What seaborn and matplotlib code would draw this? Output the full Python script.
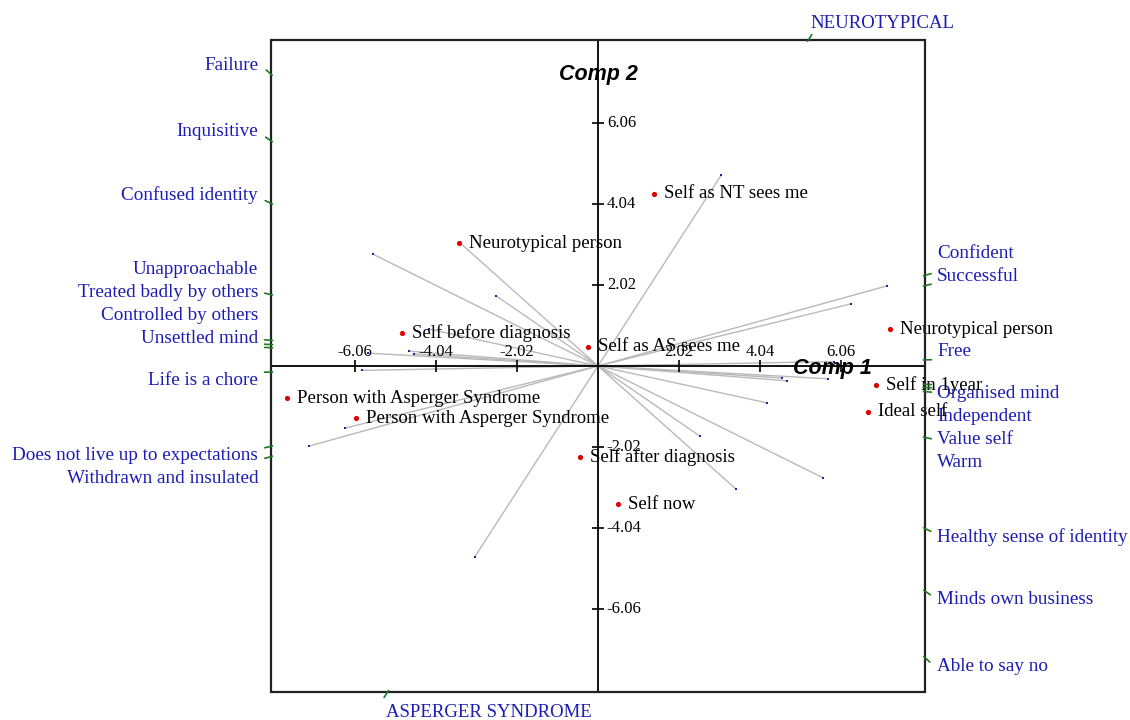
import numpy as np
import pandas as pd
import seaborn as sns
import matplotlib.pyplot as plt
from matplotlib.patches import Rectangle

# ---- data (component scores) ----
element_names = [
    'Self as NT sees me', 'Neurotypical person', 'Self before diagnosis',
    'Self as AS sees me', 'Neurotypical person', 'Self in 1year', 'Ideal self',
    'Person with Asperger Syndrome', 'Person with Asperger Syndrome',
    'Self after diagnosis', 'Self now']
element_x = [1.40, -3.47, -4.89, -0.24, 7.28, 6.93, 6.72, -7.75, -6.03, -0.45, 0.49]
element_y = [4.29, 3.06, 0.82, 0.48, 0.91, -0.47, -1.14, -0.81, -1.30, -2.28, -3.45]

# construct loadings (one pole; the other pole is the mirror through 0)
construct_x = [3.07, -5.61, -2.54, 7.21, 6.31, 5.74, 4.71, 5.89, 3.45, 4.21, 4.59]
construct_y = [4.76, 2.79, 1.75, 2.00, 1.55, -0.32, -0.37, 0.11, -3.08, -0.92, -0.30]
pole_pos = ['NEUROTYPICAL', 'Confused identity', 'Inquisitive', 'Confident',
            'Successful', 'Organised mind', 'Value self', 'Free',
            'Able to say no', 'Warm', 'Independent']
pole_neg = ['ASPERGER SYNDROME', 'Healthy sense of identity', 'Minds own business',
            'Withdrawn and insulated', 'Does not live up to expectations',
            'Unsettled mind', 'Treated badly by others', 'Life is a chore',
            'Failure', 'Unapproachable', 'Controlled by others']

axis_ticks = [-6.06, -4.04, -2.02, 2.02, 4.04, 6.06]

XL, YL = 8.15, 8.13

sns.set_theme(style='white')
serif = ['Liberation Serif', 'DejaVu Serif']
blue = '#1c1cb4'
green = '#1f7a1f'

fig = plt.figure(figsize=(11.3, 7.2), dpi=100)
ax = fig.add_axes([0.2398, 0.0389, 0.5788, 0.9056])
ax.set_xlim(-XL, XL)
ax.set_ylim(-YL, YL)
ax.set_xticks([])
ax.set_yticks([])
for s in ax.spines.values():
    s.set_visible(False)
ax.add_patch(Rectangle((0, 0), 1, 1, transform=ax.transAxes, fill=False,
                       ec='#222222', lw=1.6, clip_on=False, zorder=5))

# construct lines through origin
cx = np.array(construct_x)
cy = np.array(construct_y)
for x, y in zip(cx, cy):
    ax.plot([-x, x], [-y, y], color='#b9b9b9', lw=1, zorder=1)

ends = pd.DataFrame({'x': np.r_[cx, -cx], 'y': np.r_[cy, -cy]})
sns.scatterplot(data=ends, x='x', y='y', ax=ax, color='#2020a0', s=4,
                marker='s', linewidth=0, legend=False, zorder=3)

# axes through origin
ax.axhline(0, color='black', lw=1.3, zorder=2)
ax.axvline(0, color='black', lw=1.3, zorder=2)
ax.vlines(axis_ticks, -0.16, 0.16, color='black', lw=1.2, zorder=2)
ax.hlines(axis_ticks, -0.16, 0.16, color='black', lw=1.2, zorder=2)
for v in axis_ticks:
    ax.text(v, 0.36, '%.2f' % v, ha='center', va='center', fontsize=12,
            family=serif, color='black', zorder=4)
    ax.text(0.22, v, '%.2f' % v, ha='left', va='center', fontsize=12,
            family=serif, color='black', zorder=4)

ax.text(5.84, -0.07, 'Comp 1', ha='center', va='center', fontsize=15.5, color='black',
        fontweight='bold', fontstyle='italic', family=['Liberation Sans', 'DejaVu Sans'], zorder=4)
ax.text(0, 7.26, 'Comp 2', ha='center', va='center', fontsize=15.5, color='black',
        fontweight='bold', fontstyle='italic', family=['Liberation Sans', 'DejaVu Sans'], zorder=4)

# elements
el = pd.DataFrame({'x': element_x, 'y': element_y, 'name': element_names})
sns.scatterplot(data=el, x='x', y='y', ax=ax, color='#e00000', s=14,
                marker='o', linewidth=0, legend=False, zorder=4)
for _, r in el.iterrows():
    ax.text(r.x + 0.25, r.y, r['name'], ha='left', va='center', fontsize=13.5,
            family=serif, color='black', zorder=4)
ax.set_xlabel('')
ax.set_ylabel('')

# pole labels where each construct meets the frame
sides = {'left': [], 'right': [], 'top': [], 'bottom': []}
for x, y, pp, pn in zip(cx, cy, pole_pos, pole_neg):
    for sx, sy, lab in [(x, y, pp), (-x, -y, pn)]:
        k = min(XL / abs(sx) if sx else np.inf, YL / abs(sy) if sy else np.inf)
        bx, by = sx * k, sy * k
        u = np.array([sx, sy]) / np.hypot(sx, sy)
        ax.plot([bx - 0.04 * u[0], bx + 0.16 * u[0]], [by - 0.04 * u[1], by + 0.16 * u[1]],
                color=green, lw=1.2, clip_on=False, zorder=6)
        if abs(bx) >= XL - 1e-6:
            sides['right' if bx > 0 else 'left'].append((by, lab))
        else:
            sides['top' if by > 0 else 'bottom'].append((bx, lab))

off, gap = 0.22, 0.58
for side in ['left', 'right']:
    items = sides[side]
    xs = -XL - 0.32 if side == 'left' else XL + 0.3
    ha = 'right' if side == 'left' else 'left'
    up = sorted([t for t in items if t[0] >= 0])
    lo = sorted([t for t in items if t[0] < 0], reverse=True)
    prev = -np.inf
    for y, lab in up:
        p = max(y + off, prev + gap)
        prev = p
        ax.text(xs, p, lab, ha=ha, va='center', fontsize=13.8, family=serif,
                color=blue, clip_on=False)
    prev = np.inf
    for y, lab in lo:
        p = min(y - off, prev - gap)
        prev = p
        ax.text(xs, p, lab, ha=ha, va='center', fontsize=13.8, family=serif,
                color=blue, clip_on=False)

for bx, lab in sides['top']:
    ax.text(bx + 0.05, YL + 0.42, lab, ha='left', va='center', fontsize=13.5,
            family=serif, color=blue, clip_on=False)
for bx, lab in sides['bottom']:
    ax.text(bx - 0.05, -YL - 0.5, lab, ha='left', va='center', fontsize=13.5,
            family=serif, color=blue, clip_on=False)

fig.savefig('out.png', dpi=100, facecolor='white')
